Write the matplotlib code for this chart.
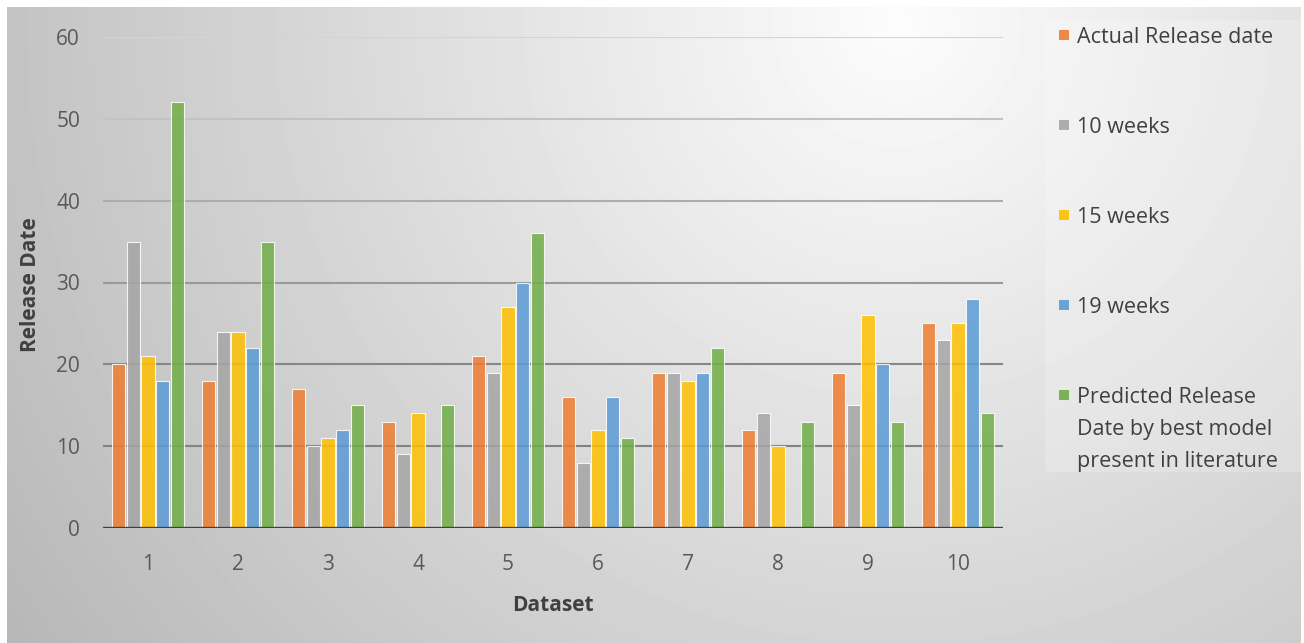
import numpy as np
import matplotlib.pyplot as plt
from matplotlib.patches import Rectangle

plt.rcParams['font.family'] = ['Open Sans', 'DejaVu Sans']

datasets = ['1', '2', '3', '4', '5', '6', '7', '8', '9', '10']
actual = [20, 18, 17, 13, 21, 16, 19, 12, 19, 25]
weeks_10 = [35, 24, 10, 9, 19, 8, 19, 14, 15, 23]
weeks_15 = [21, 24, 11, 14, 27, 12, 18, 10, 26, 25]
weeks_19 = [18, 22, 12, 0, 30, 16, 19, 0, 20, 28]
predicted = [52, 35, 15, 15, 36, 11, 22, 13, 13, 14]

series = [actual, weeks_10, weeks_15, weeks_19, predicted]
labels = ['Actual Release date', '10 weeks', '15 weeks', '19 weeks',
          'Predicted Release\nDate by best model\npresent in literature']
colors = ['#ED7D31', '#A5A5A5', '#FFC000', '#5B9BD5', '#70AD47']

W, H = 1304, 643
fig = plt.figure(figsize=(W / 100, H / 100), dpi=100)
fig.patch.set_facecolor('white')

# grey radial backdrop, brightest near the top right of the plot
bg = fig.add_axes([7 / W, 0, (1301 - 7) / W, 1 - 7 / H], zorder=-2)
yy, xx = np.mgrid[0:636, 0:1294]
d = np.hypot(xx - 890, yy - 15) / 1000.0
shade = np.clip(252 - 64 * d, 180, 252) / 255.0
bg.imshow(shade, cmap='gray', vmin=0, vmax=1, aspect='auto',
          interpolation='bilinear')
bg.axis('off')

ax = fig.add_axes([103 / W, 1 - 528 / H, 900 / W, (528 - 37) / H])
ax.patch.set_alpha(0)

x = np.arange(len(datasets))
slot = 0.162
width = 0.145
for i, (vals, lab, col) in enumerate(zip(series, labels, colors)):
    ax.bar(x + (i - 2) * slot, vals, width, color=col, alpha=0.85,
           edgecolor='white', linewidth=0.8, label=lab, zorder=3)

ax.set_xlim(-0.5, len(datasets) - 0.5)
ax.set_ylim(0, 60)
ax.set_yticks(range(0, 61, 10))
ax.set_xticks(x)
ax.set_xticklabels(datasets)

# gridlines fade toward the top
grid_colors = {10: '#828282', 20: '#878787', 30: '#9a9a9a', 40: '#adadad',
               50: '#c2c2c2', 60: '#d4d4d4'}
for yv, gc in grid_colors.items():
    ax.axhline(yv, color=gc, linewidth=1.5, zorder=1)
ax.axhline(0, color='#404040', linewidth=2.4, zorder=4)

for s in ax.spines.values():
    s.set_visible(False)
ax.tick_params(length=0, labelsize=15, colors='#595959')
ax.tick_params(axis='y', pad=16.5)
ax.tick_params(axis='x', pad=19)

ax.set_xlabel('Dataset', fontsize=15, fontweight='bold', color='#404040',
              labelpad=14)
fig.text(31 / W, 1 - 285 / H, 'Release Date', rotation=90, fontsize=15,
         fontweight='bold', color='#404040', ha='center', va='center')

# legend panel on the right
fig.add_artist(Rectangle((1045 / W, 1 - 472 / H), 256 / W, 452 / H,
                         transform=fig.transFigure, facecolor='white',
                         alpha=0.2, edgecolor='none'))
legend_y = [35, 125, 215, 305, 395]
for lab, col, ly in zip(labels, colors, legend_y):
    fig.add_artist(Rectangle((1059 / W, 1 - (ly + 5) / H), 10 / W, 10 / H,
                             transform=fig.transFigure, facecolor=col,
                             alpha=0.9, edgecolor='none'))
    fig.text(1077 / W, 1 - (ly - 8) / H, lab, fontsize=15.5, color='#404040',
             ha='left', va='top', linespacing=1.7)

fig.savefig('out.png', dpi=100)
